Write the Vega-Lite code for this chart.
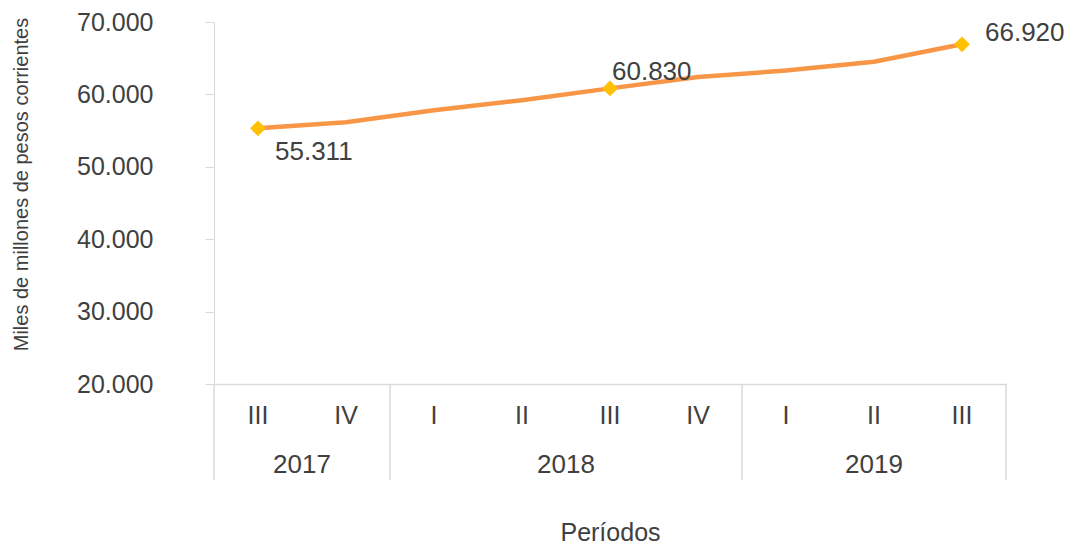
{
  "$schema": "https://vega.github.io/schema/vega-lite/v6.json",
  "padding": {"left": 11, "top": 10, "right": 0, "bottom": 0},
  "spacing": 0,
  "bounds": "flush",
  "config": {
    "view": {"stroke": null},
    "font": "Liberation Sans",
    "locale": {"number": {"decimal": ",", "thousands": ".", "grouping": [3], "currency": ["$", ""]}}
  },
  "datasets": {
    "series": [
      {"year": "2017", "q": "III", "t": 0.5, "value": 55311, "hl": true},
      {"year": "2017", "q": "IV", "t": 1.5, "value": 56150, "hl": false},
      {"year": "2018", "q": "I", "t": 2.5, "value": 57800, "hl": false},
      {"year": "2018", "q": "II", "t": 3.5, "value": 59200, "hl": false},
      {"year": "2018", "q": "III", "t": 4.5, "value": 60830, "hl": true},
      {"year": "2018", "q": "IV", "t": 5.5, "value": 62400, "hl": false},
      {"year": "2019", "q": "I", "t": 6.5, "value": 63300, "hl": false},
      {"year": "2019", "q": "II", "t": 7.5, "value": 64500, "hl": false},
      {"year": "2019", "q": "III", "t": 8.5, "value": 66920, "hl": true}
    ],
    "bounds": [{"b": 0}, {"b": 2}, {"b": 6}, {"b": 9}],
    "years": [{"year": "2017", "c": 1}, {"year": "2018", "c": 4}, {"year": "2019", "c": 7.5}]
  },
  "vconcat": [
    {
      "width": 792,
      "height": 362,
      "data": {"name": "series"},
      "encoding": {
        "x": {"field": "t", "type": "quantitative", "scale": {"domain": [0, 9], "nice": false},
          "axis": {"labels": false, "ticks": false, "grid": false, "title": null, "domainColor": "#d9d9d9", "domainWidth": 1.5,
            "labelPadding": 0, "titlePadding": 0, "minExtent": 0, "maxExtent": 0, "offset": 0}},
        "y": {"field": "value", "type": "quantitative", "scale": {"domain": [20000, 70000], "nice": false, "zero": false},
          "axis": {"title": "Miles de millones de pesos corrientes", "values": [20000, 30000, 40000, 50000, 60000, 70000],
            "format": ",d", "grid": false, "domainColor": "#d9d9d9", "tickColor": "#d9d9d9", "tickSize": 9,
            "labelPadding": 52, "labelFontSize": 25, "labelColor": "#404040",
            "titleFontSize": 20, "titleFontWeight": "normal", "titleColor": "#404040", "titlePadding": 45, "titleY": 162}}
      },
      "layer": [
        {"mark": {"type": "line", "color": "#F79646", "strokeWidth": 4.5}},
        {"transform": [{"filter": "datum.hl"}],
         "mark": {"type": "point", "shape": "diamond", "filled": true, "color": "#FFC000", "size": 250, "opacity": 1}},
        {"transform": [{"filter": "datum.year == '2017' && datum.q == 'III'"}],
         "mark": {"type": "text", "fontSize": 26, "color": "#404040", "align": "left", "baseline": "middle", "dx": 17, "dy": 24},
         "encoding": {"text": {"field": "value", "type": "quantitative", "format": ",d"}}},
        {"transform": [{"filter": "datum.year == '2018' && datum.q == 'III'"}],
         "mark": {"type": "text", "fontSize": 26, "color": "#404040", "align": "left", "baseline": "middle", "dx": 2, "dy": -16},
         "encoding": {"text": {"field": "value", "type": "quantitative", "format": ",d"}}},
        {"transform": [{"filter": "datum.year == '2019' && datum.q == 'III'"}],
         "mark": {"type": "text", "fontSize": 26, "color": "#404040", "align": "left", "baseline": "middle", "dx": 23, "dy": -11},
         "encoding": {"text": {"field": "value", "type": "quantitative", "format": ",d"}}}
      ]
    },
    {
      "width": 792,
      "height": 96,
      "layer": [
        {"data": {"name": "bounds"},
         "mark": {"type": "rule", "color": "#d9d9d9", "strokeWidth": 1.5},
         "encoding": {"x": {"field": "b", "type": "quantitative", "scale": {"domain": [0, 9], "nice": false},
           "axis": {"labels": false, "ticks": false, "domain": false, "grid": false, "title": "Períodos",
             "titleFontSize": 25, "titleFontWeight": "normal", "titleColor": "#404040", "titlePadding": 40}}}},
        {"data": {"name": "series"},
         "mark": {"type": "text", "fontSize": 25, "color": "#404040", "baseline": "middle"},
         "encoding": {
           "x": {"field": "t", "type": "quantitative", "scale": {"domain": [0, 9], "nice": false}},
           "y": {"datum": "q", "type": "ordinal", "scale": {"type": "point", "domain": ["q", "y"], "padding": 0.48, "align": 0.68}, "axis": null},
           "text": {"field": "q", "type": "nominal"}}},
        {"data": {"name": "years"},
         "mark": {"type": "text", "fontSize": 26, "color": "#404040", "baseline": "middle"},
         "encoding": {
           "x": {"field": "c", "type": "quantitative", "scale": {"domain": [0, 9], "nice": false}},
           "y": {"datum": "y", "type": "ordinal", "scale": {"type": "point", "domain": ["q", "y"], "padding": 0.48, "align": 0.68}, "axis": null},
           "text": {"field": "year", "type": "nominal"}}}
      ]
    }
  ]
}
